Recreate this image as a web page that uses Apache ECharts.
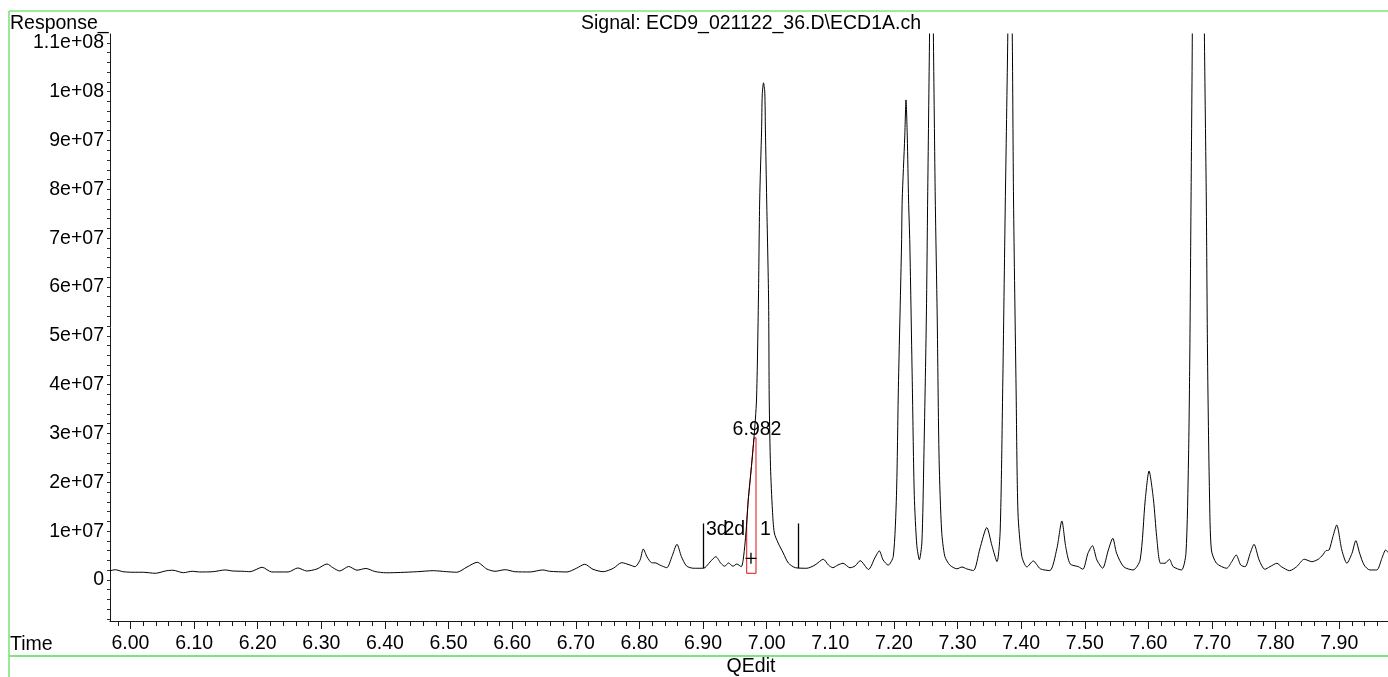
<!DOCTYPE html>
<html>
<head>
<meta charset="utf-8">
<script src="https://cdn.jsdelivr.net/npm/echarts@6/dist/echarts.min.js"></script>
<style>
  html, body { margin: 0; padding: 0; background: #fff; }
  #chart { width: 1388px; height: 677px; }
</style>
</head>
<body>
<div id="chart"></div>
<script>
// ---- chromatogram trace: retention time (min) and detector response (x 1e6) ----
const retentionTime = [
  5.968, 5.976, 5.988, 6.004, 6.020, 6.039, 6.057, 6.067, 6.083, 6.097,
  6.109, 6.130, 6.149, 6.161, 6.177, 6.188, 6.207, 6.222, 6.248, 6.263,
  6.277, 6.293, 6.309, 6.318, 6.329, 6.343, 6.356, 6.370, 6.384, 6.402,
  6.424, 6.451, 6.476, 6.497, 6.513, 6.529, 6.545, 6.560, 6.573, 6.589,
  6.604, 6.628, 6.648, 6.659, 6.686, 6.701, 6.714, 6.727, 6.743, 6.759,
  6.772, 6.785, 6.793, 6.801, 6.806, 6.812, 6.819, 6.826, 6.832, 6.843,
  6.851, 6.859, 6.866, 6.874, 6.885, 6.898, 6.903, 6.911, 6.920, 6.928,
  6.934, 6.940, 6.947, 6.953, 6.960, 6.963, 6.966, 6.969, 6.971, 6.976,
  6.980, 6.984, 6.987, 6.989, 6.992, 6.993, 6.995, 6.997, 6.998, 7.000,
  7.003, 7.004, 7.006, 7.009, 7.012, 7.018, 7.026, 7.034, 7.045, 7.063,
  7.076, 7.089, 7.097, 7.104, 7.112, 7.120, 7.131, 7.139, 7.147, 7.160,
  7.170, 7.177, 7.183, 7.191, 7.199, 7.204, 7.207, 7.212, 7.213, 7.217,
  7.219, 7.221, 7.223, 7.225, 7.229, 7.232, 7.236, 7.240, 7.244, 7.247,
  7.251, 7.253, 7.256, 7.259, 7.262, 7.265, 7.268, 7.271, 7.275, 7.280,
  7.288, 7.299, 7.307, 7.314, 7.325, 7.335, 7.346, 7.354, 7.362, 7.367,
  7.371, 7.375, 7.379, 7.382, 7.386, 7.388, 7.392, 7.395, 7.401, 7.409,
  7.419, 7.430, 7.445, 7.456, 7.464, 7.470, 7.477, 7.490, 7.497, 7.505,
  7.512, 7.519, 7.528, 7.537, 7.544, 7.550, 7.561, 7.576, 7.587, 7.595,
  7.601, 7.608, 7.613, 7.619, 7.626, 7.633, 7.639, 7.652, 7.659, 7.663,
  7.665, 7.667, 7.669, 7.675, 7.688, 7.691, 7.693, 7.696, 7.699, 7.707,
  7.723, 7.731, 7.738, 7.745, 7.752, 7.760, 7.766, 7.774, 7.783, 7.791,
  7.802, 7.809, 7.822, 7.833, 7.845, 7.857, 7.867, 7.874, 7.879, 7.884,
  7.890, 7.896, 7.904, 7.912, 7.920, 7.926, 7.932, 7.939, 7.948, 7.959,
  7.967, 7.973, 7.977
];
const responseE6 = [
  1.9, 2.1, 1.70, 1.58, 1.58, 1.37, 1.90, 1.99, 1.49, 1.78,
  1.64, 1.70, 2.05, 1.84, 1.78, 1.70, 2.60, 1.64, 1.64, 2.46,
  1.84, 2.25, 3.28, 2.52, 1.84, 2.76, 2.0, 2.36, 1.74, 1.47,
  1.54, 1.70, 1.90, 1.70, 1.58, 2.66, 3.62, 2.25, 1.78, 2.11,
  1.70, 1.64, 2.05, 1.78, 1.64, 2.40, 3.22, 2.19, 1.70, 2.40,
  3.54, 3.07, 2.72, 4.10, 6.35, 4.71, 3.54, 3.48, 3.07, 2.52,
  4.77, 7.31, 4.77, 2.87, 2.40, 2.40, 2.52, 3.69, 4.77, 3.42,
  2.81, 3.48, 2.81, 3.28, 2.72, 4.10, 7.58, 12.29, 16.38, 23.20,
  29.08, 36.86, 57.34, 77.82, 92.16, 99.3, 101.8, 99.9, 92.16, 77.82,
  57.34, 36.86, 23.20, 14.34, 9.63, 7.58, 5.53, 3.48, 2.52, 2.40,
  3.07, 4.24, 3.07, 2.52, 3.07, 3.42, 2.50, 2.87, 3.95, 2.15,
  4.51, 5.96, 4.10, 3.03, 4.85, 17.35, 39.36, 68.8, 77.8, 90.7,
  98.3, 90.7, 77.8, 68.8, 39.36, 17.35, 7.07, 4.14, 7.78, 24.68,
  54.07, 77.82, 111.8, 150.0, 111.8, 77.82, 54.07, 24.68, 10.03, 4.85,
  3.03, 2.29, 2.66, 2.29, 1.93, 6.35, 10.73, 7.07, 3.77, 10.03,
  39.36, 76.8, 111.8, 150.0, 111.8, 77.82, 39.36, 13.72, 4.85, 2.66,
  3.89, 2.29, 1.93, 6.35, 12.08, 6.82, 3.28, 2.72, 2.19, 5.47,
  7.02, 4.10, 2.40, 6.14, 8.54, 5.47, 2.72, 2.05, 4.10, 16.38,
  22.32, 16.38, 8.87, 3.42, 3.42, 4.24, 2.72, 2.05, 5.47, 24.58,
  45.05, 77.82, 111.8, 300.0, 111.8, 77.82, 45.05, 17.82, 6.14, 3.42,
  2.40, 3.75, 5.12, 3.07, 2.72, 5.47, 7.31, 4.10, 2.19, 2.72,
  3.42, 2.72, 1.90, 2.72, 4.24, 3.75, 4.24, 5.12, 6.00, 6.14,
  8.87, 11.26, 6.14, 3.42, 5.47, 8.05, 5.47, 3.07, 2.05, 2.05,
  4.44, 6.14, 5.59
];

// integration slice under the 6.982 peak (time, response x 1e6)
const sliceTime = [6.9686, 6.9686, 6.971, 6.976, 6.980, 6.9832, 6.9832, 6.9686];
const sliceResp = [1.37, 12.29, 16.38, 23.20, 29.08, 29.14, 1.37, 1.37];

// baseline event markers
const markerTime = [6.9004, 7.0497];
const markerFrom = [2.40, 2.40];
const markerTo = [11.57, 11.57];

// peak annotations
const annoText = ['3d', '2d', '1', '6.982'];
const annoTime = [6.9045, 6.9321, 6.9895, 6.9848];
const annoResp = [10.24, 10.24, 10.24, 30.7];
const annoAlign = ['left', 'left', 'left', 'center'];

// apex cursor
const cursorPoint = [6.9753, 4.44];

// axis ticks
const xTickValues = [6.0, 6.1, 6.2, 6.3, 6.4, 6.5, 6.6, 6.7, 6.8, 6.9, 7.0,
                     7.1, 7.2, 7.3, 7.4, 7.5, 7.6, 7.7, 7.8, 7.9];
const xTickLabels = ['6.00', '6.10', '6.20', '6.30', '6.40', '6.50', '6.60', '6.70', '6.80', '6.90', '7.00',
                     '7.10', '7.20', '7.30', '7.40', '7.50', '7.60', '7.70', '7.80', '7.90'];
const yTickValues = [0, 1e7, 2e7, 3e7, 4e7, 5e7, 6e7, 7e7, 8e7, 9e7, 1e8, 1.1e8];
const yTickLabels = ['0', '1e+07', '2e+07', '3e+07', '4e+07', '5e+07', '6e+07',
                     '7e+07', '8e+07', '9e+07', '1e+08', '1.1e+08'];

const X_MIN = 5.9678, X_MAX = 7.9766;
const Y_MIN = -8.4e6, Y_MAX = 1.118e8;
const FONT = '"Liberation Sans", Arial, sans-serif';
const FS = 19.5;

const E6 = 1e6;
const trace = retentionTime.map((t, i) => [t, responseE6[i] * E6]);
const slice = sliceTime.map((t, i) => [t, sliceResp[i] * E6]);

// minor tick positions on the time axis (every 0.02 min)
const xMinor = [];
for (let k = 0; k <= 100; k++) {
  const v = +(5.98 + k * 0.02).toFixed(2);
  if (v > X_MIN && v < X_MAX) xMinor.push(v);
}
// response axis ticks every 2e6 (labels stay on the 1e7 steps)
const yAllTicks = [];
for (let k = -4; k <= 55; k++) {
  const v = k * 2e6;
  if (v >= Y_MIN && v <= Y_MAX) yAllTicks.push(v);
}

function lookup(values, labels, v) {
  let best = 0;
  for (let i = 1; i < values.length; i++) {
    if (Math.abs(values[i] - v) < Math.abs(values[best] - v)) best = i;
  }
  return labels[best];
}

const chart = echarts.init(document.getElementById('chart'), null, { renderer: 'canvas' });

const GREEN = '#7ee47e';
const AXIS = '#1a1a1a';

chart.setOption({
  animation: false,
  backgroundColor: '#ffffff',
  grid: { left: 110, top: 34, width: 1278, height: 587, containLabel: false, show: false },
  xAxis: [
    {
      type: 'value', min: X_MIN, max: X_MAX, position: 'bottom', offset: 0,
      axisLine: { show: true, onZero: false, lineStyle: { color: AXIS, width: 1 } },
      axisTick: { show: true, customValues: xTickValues, length: 8, lineStyle: { color: AXIS, width: 1 } },
      axisLabel: {
        show: true, customValues: xTickValues, margin: 13,
        color: '#000', fontSize: FS, fontFamily: FONT,
        formatter: v => lookup(xTickValues, xTickLabels, v)
      },
      splitLine: { show: false }
    },
    {
      type: 'value', min: X_MIN, max: X_MAX, position: 'bottom', offset: 0,
      axisLine: { show: false, onZero: false },
      axisTick: { show: true, customValues: xMinor, length: 5, lineStyle: { color: AXIS, width: 1 } },
      axisLabel: { show: false },
      splitLine: { show: false }
    }
  ],
  yAxis: {
    type: 'value', min: Y_MIN, max: Y_MAX, position: 'left', offset: 0,
    axisLine: { show: true, onZero: false, lineStyle: { color: AXIS, width: 1 } },
    axisTick: { show: true, customValues: yAllTicks, length: 3, lineStyle: { color: '#333', width: 1 } },
    axisLabel: {
      show: true, customValues: yTickValues, margin: 6,
      color: '#000', fontSize: FS, fontFamily: FONT,
      formatter: v => lookup(yTickValues, yTickLabels, v)
    },
    splitLine: { show: false }
  },
  series: [
    {
      name: 'slice', type: 'line', data: slice, z: 2,
      showSymbol: false, symbol: 'none', smooth: false,
      lineStyle: { color: '#e01010', width: 1 }
    },
    {
      name: 'ECD1A', type: 'line', data: trace, z: 3, clip: true,
      showSymbol: false, symbol: 'none', smooth: 0.25,
      lineStyle: { color: '#000', width: 1 },
      markLine: {
        silent: true, symbol: ['none', 'none'],
        label: { show: false },
        lineStyle: { color: '#000', width: 1.3, type: 'solid' },
        data: markerTime.map((t, i) => [
          { coord: [t, markerFrom[i] * E6] },
          { coord: [t, markerTo[i] * E6] }
        ])
      }
    },
    {
      name: 'cursor', type: 'scatter', z: 4,
      data: [[cursorPoint[0], cursorPoint[1] * E6]],
      symbol: 'path://M0,4.4H10V5.6H0Z M4.4,0H5.6V10H4.4Z',
      symbolSize: 11,
      itemStyle: { color: '#000', opacity: 1 }
    },
    {
      name: 'annotations', type: 'scatter', z: 5,
      symbolSize: 0,
      itemStyle: { opacity: 1 },
      data: annoText.map((txt, i) => ({
        value: [annoTime[i], annoResp[i] * E6],
        label: {
          show: true, formatter: txt, position: 'inside',
          align: annoAlign[i], verticalAlign: 'middle', opacity: 1,
          color: '#000', fontSize: FS, fontFamily: FONT
        }
      }))
    }
  ],
  graphic: [
    { type: 'line', id: 'frameTop', shape: { x1: 9, y1: 11, x2: 1388, y2: 11 }, style: { stroke: GREEN, lineWidth: 1.6 }, silent: true },
    { type: 'line', id: 'frameLeft', shape: { x1: 9, y1: 11, x2: 9, y2: 677 }, style: { stroke: GREEN, lineWidth: 1.6 }, silent: true },
    { type: 'line', id: 'frameBottom', shape: { x1: 9, y1: 656, x2: 1388, y2: 656 }, style: { stroke: GREEN, lineWidth: 2 }, silent: true },
    { type: 'text', id: 'yName', x: 10, y: 24, style: { text: 'Response_', fill: '#000', font: FS + 'px ' + FONT, align: 'left', verticalAlign: 'middle' }, silent: true },
    { type: 'text', id: 'signal', x: 751, y: 24, style: { text: 'Signal: ECD9_021122_36.D\\ECD1A.ch', fill: '#000', font: FS + 'px ' + FONT, align: 'center', verticalAlign: 'middle' }, silent: true },
    { type: 'text', id: 'xName', x: 10, y: 645, style: { text: 'Time', fill: '#000', font: FS + 'px ' + FONT, align: 'left', verticalAlign: 'middle' }, silent: true },
    { type: 'text', id: 'footer', x: 751, y: 667, style: { text: 'QEdit', fill: '#000', font: FS + 'px ' + FONT, align: 'center', verticalAlign: 'middle' }, silent: true }
  ]
});
</script>
</body>
</html>
